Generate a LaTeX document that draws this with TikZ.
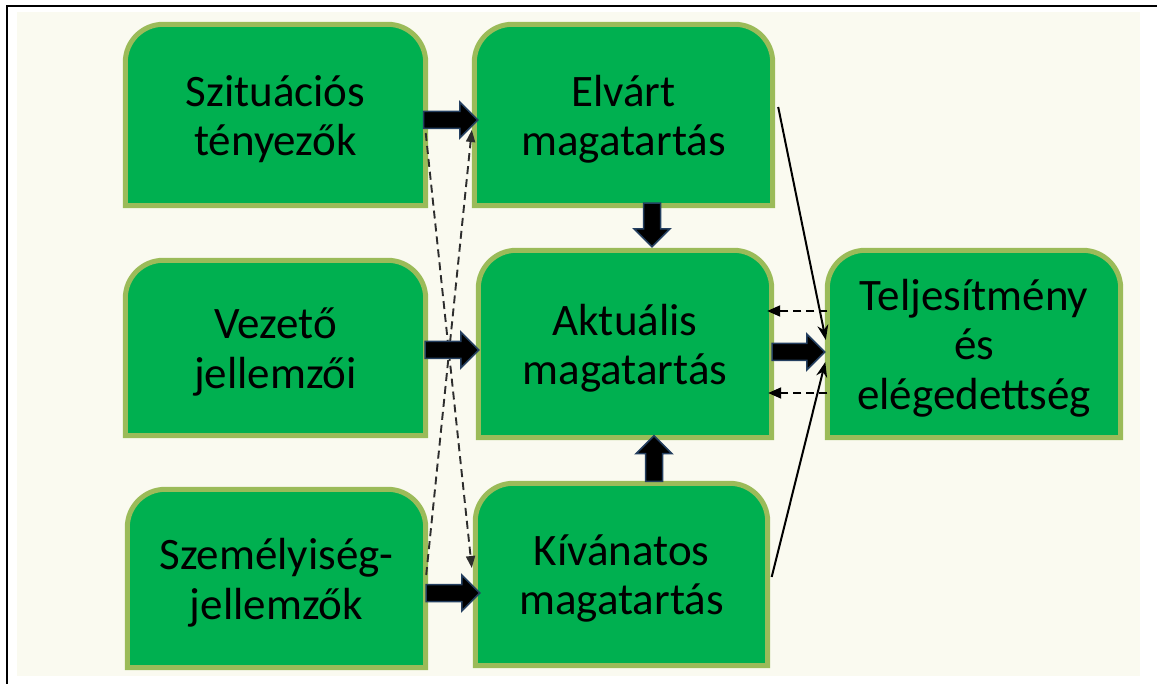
\documentclass[tikz,border=0pt]{standalone}
\usepackage{fontspec}
\setmainfont{Carlito}
\usetikzlibrary{calc,arrows.meta}
\pgfdeclarelayer{background}
\pgfsetlayers{background,main}
\definecolor{boxgreen}{RGB}{0,176,80}
\definecolor{boxborder}{RGB}{155,187,89}
\definecolor{cream}{RGB}{250,250,240}
\definecolor{arrowblue}{RGB}{36,63,96}
\definecolor{dashgrey}{RGB}{45,45,45}
\tikzset{
  box/.style={inner sep=0pt, align=center, text=black, font=\fontsize{45}{49.5}\selectfont},
  boxshape/.style={fill=boxgreen, draw=boxborder, line width=5pt},
  blockarrow/.style={fill=black, draw=arrowblue, line width=1.5pt, line join=miter},
  crossdash/.style={draw=dashgrey, line width=1.9pt, dash pattern=on 8pt off 5pt, -{Triangle[length=12pt,width=9pt,fill=dashgrey]}},
  backdash/.style={draw=black, line width=1.9pt, dash pattern=on 8pt off 5pt, -{Triangle[length=13pt,width=11pt]}},
  thinarrow/.style={draw=black, line width=2pt, -{Stealth[length=15pt,width=11pt]}},
}
\newcommand{\blockarr}[2]{%
  \coordinate (hb) at ($(#2)!18pt!(#1)$);
  \draw[blockarrow] ($(#1)!8.5pt!90:(#2)$) -- ($(hb)!8.5pt!-90:(#1)$) -- ($(hb)!18pt!-90:(#1)$) -- (#2) -- ($(hb)!18pt!90:(#1)$) -- ($(hb)!8.5pt!90:(#1)$) -- ($(#1)!8.5pt!-90:(#2)$) -- cycle;}
\begin{document}
\begin{tikzpicture}[x=1pt,y=-1pt]
\useasboundingbox (0,0) rectangle (1157,684);
% nodes (text sits a little below the middle of each box)
\node[box, minimum width=300pt, minimum height=181pt] (szit) at (275.5,119) {Szituációs\\tényezők};
\node[box, minimum width=298pt, minimum height=181pt] (elvart) at (623.5,119) {Elvárt\\magatartás};
\node[box, minimum width=300pt, minimum height=175pt] (vezeto) at (275.5,352) {Vezető\\jellemzői};
\node[box, minimum width=293pt, minimum height=187pt] (aktualis) at (625,348) {Aktuális\\magatartás};
\node[box, minimum width=293pt, minimum height=187pt] (teljes) at (974,348) {Teljesítmény\\és\\elégedettség};
\node[box, minimum width=298pt, minimum height=178pt] (szemely) at (276.5,582.5) {Személyiség-\\jellemzők};
\node[box, minimum width=292pt, minimum height=182pt] (kivanatos) at (621.5,578.5) {Kívánatos\\magatartás};
% background, frame and box shapes
\begin{pgfonlayer}{background}
  \fill[white] (0,0) rectangle (1157,684);
  \fill[cream] (17,12) rectangle (1140,676);
  \draw[black, line width=2.5pt] (1157,6) -- (7,6) -- (7,684);
  \foreach \n in {szit,elvart,vezeto,aktualis,teljes,szemely,kivanatos}
    \draw[boxshape] ([yshift=4pt]\n.south west) -- ([yshift=-34pt]\n.north west)
      arc[start angle=180, end angle=90, radius=38pt]
      -- ([xshift=-38pt,yshift=4pt]\n.north east)
      arc[start angle=90, end angle=0, radius=38pt]
      -- ([yshift=4pt]\n.south east) -- cycle;
\end{pgfonlayer}
% dashed cross connectors
\draw[crossdash] ($(szit.east)+(0,14)$) -- ($(kivanatos.west)+(-3.5,-10.5)$);
\draw[crossdash] ($(szemely.east)+(0.5,-7.5)$) -- ($(elvart.west)+(-2.5,11)$);
% block arrows
\coordinate (b1s) at ($(szit.east)+(-2,1)$);
\coordinate (b1t) at ($(elvart.west)+(3.5,1)$);
\blockarr{b1s}{b1t}
\coordinate (b2s) at ($(vezeto.east)+(-0.5,-2)$);
\coordinate (b2t) at ($(aktualis.west)+(0.5,2)$);
\blockarr{b2s}{b2t}
\coordinate (b3s) at ($(aktualis.east)+(0.5,4)$);
\coordinate (b3t) at ($(teljes.west)+(-2.5,4)$);
\blockarr{b3s}{b3t}
\coordinate (b4s) at ($(szemely.east)+(0.5,10.5)$);
\coordinate (b4t) at ($(kivanatos.west)+(4.5,14.5)$);
\blockarr{b4s}{b4t}
\coordinate (b5s) at ($(elvart.south)+(28.5,-6.5)$);
\coordinate (b5t) at ($(aktualis.north)+(27,-7.5)$);
\blockarr{b5s}{b5t}
\coordinate (b6s) at ($(kivanatos.north)+(32.5,-6)$);
\coordinate (b6t) at ($(aktualis.south)+(29,-6)$);
\blockarr{b6s}{b6t}
% feedback dashed
\draw[backdash] ($(teljes.west)+(0,-37)$) -- ($(aktualis.east)+(-4.5,-37)$);
\draw[backdash] ($(teljes.west)+(0,45)$) -- ($(aktualis.east)+(-3.5,45)$);
% thin solid arrows
\draw[thinarrow] ($(elvart.east)+(5.5,-12)$) -- ($(teljes.west)+(-1.5,-8)$);
\draw[thinarrow] ($(kivanatos.east)+(4,-1.5)$) -- ($(teljes.west)+(-2,14)$);
\end{tikzpicture}
\end{document}
